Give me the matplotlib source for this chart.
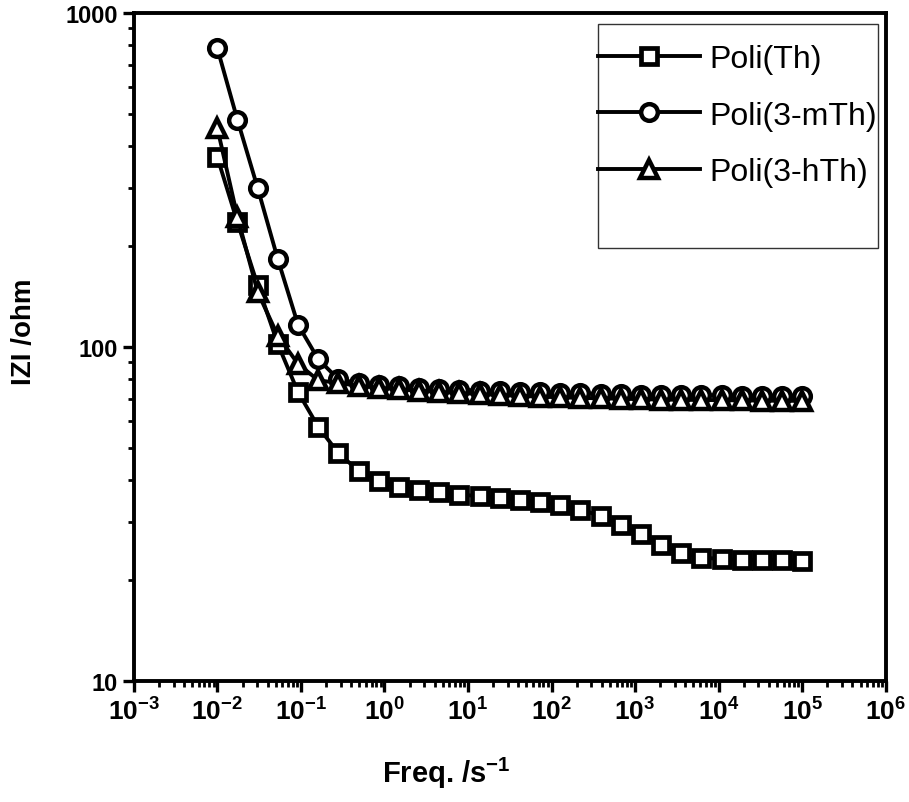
import math
import matplotlib
matplotlib.use("Agg")
import matplotlib.pyplot as plt
from matplotlib.patches import Rectangle
from matplotlib.ticker import LogLocator, FixedLocator, FuncFormatter, NullFormatter

plt.rcParams["font.family"] = ["Liberation Sans", "DejaVu Sans"]
plt.rcParams["mathtext.fontset"] = "custom"
plt.rcParams["mathtext.rm"] = "Liberation Sans:bold"
plt.rcParams["mathtext.bf"] = "Liberation Sans:bold"

# frequency (s^-1), 30 points from 1e-2 to 1e5
freq = [0.0100, 0.01742, 0.03039, 0.05298, 0.09237, 0.1610, 0.2807, 0.4894,
        0.8533, 1.487, 2.593, 4.520, 7.880, 13.74, 23.95, 41.75, 72.79, 126.9,
        221.2, 385.7, 672.4, 1172, 2044, 3562, 6211, 10829, 18880, 32914,
        57384, 100000]

# |Z| / ohm
z_th = [370, 236, 153, 102, 73.3, 57.7, 48.1, 42.6, 39.8, 38.0, 37.2, 36.7,
        36.1, 35.8, 35.3, 34.9, 34.4, 33.6, 32.6, 31.2, 29.4, 27.5, 25.6,
        24.2, 23.4, 23.2, 23.0, 23.0, 23.0, 22.9]
z_mth = [784, 478, 299, 183, 116.6, 92, 80, 78, 77, 76.2, 75.5, 75, 74.5, 74,
         73.7, 73.4, 73.1, 72.8, 72.6, 72.4, 72.2, 72.0, 71.9, 71.8, 71.7,
         71.6, 71.5, 71.5, 71.5, 71.5]
z_hth = [452, 245, 146, 108, 89, 79.5, 78, 76.5, 75.5, 74.7, 74, 73.4, 72.8,
         72.3, 71.8, 71.4, 71, 70.7, 70.4, 70.2, 70, 69.8, 69.6, 69.5, 69.4,
         69.3, 69.2, 69.1, 69.0, 69.0]

labels = ["Poli(Th)", "Poli(3-mTh)", "Poli(3-hTh)"]

fig = plt.figure(figsize=(9.09, 8.03), dpi=100)
ax = fig.add_axes([0.1472, 0.1507, 0.8272, 0.8319])

style = dict(color="black", lw=2.8, mfc="white", mec="black")
l1, = ax.plot(freq, z_th, marker="s", ms=11, mew=3.4, label=labels[0], **style)
l2, = ax.plot(freq, z_mth, marker="o", ms=12, mew=3.2, label=labels[1], **style)
l3, = ax.plot(freq, z_hth, marker="^", ms=13.5, mew=3.2, label=labels[2], **style)

ax.set_xscale("log")
ax.set_yscale("log")
ax.set_xlim(1e-3, 1e6)
ax.set_ylim(10, 1000)

ax.xaxis.set_major_locator(FixedLocator([10.0 ** e for e in range(-3, 7)]))
ax.xaxis.set_minor_locator(LogLocator(base=10, subs=range(2, 10), numticks=20))
ax.xaxis.set_major_formatter(FuncFormatter(
    lambda v, p: r"$\mathbf{10^{%d}}$" % round(math.log10(v))))
ax.xaxis.set_minor_formatter(NullFormatter())

ax.yaxis.set_major_locator(FixedLocator([10, 100, 1000]))
ax.yaxis.set_minor_locator(LogLocator(base=10, subs=range(2, 10), numticks=10))
ax.yaxis.set_major_formatter(FuncFormatter(lambda v, p: "%d" % v))
ax.yaxis.set_minor_formatter(NullFormatter())

ax.tick_params(which="major", direction="out", length=8, width=2.4,
               top=False, right=False)
ax.tick_params(which="minor", direction="out", length=4.5, width=2.0,
               top=False, right=False)
ax.tick_params(axis="y", which="major", pad=3.5, labelsize=17)
ax.tick_params(axis="x", which="major", pad=4, labelsize=19)
for t in ax.get_yticklabels():
    t.set_fontweight("bold")
for s in ax.spines.values():
    s.set_linewidth(2.8)

ax.set_xlabel(r"Freq. /s$^{\mathbf{-1}}$", fontsize=21, fontweight="bold")
ax.xaxis.set_label_coords(0.415, -0.11)
ax.set_ylabel("IZI /ohm", fontsize=20, fontweight="bold")
ax.yaxis.set_label_coords(-0.129, 0.524)

# legend frame drawn separately (box is taller than its entries)
ax.add_patch(Rectangle((0.617, 0.648), 0.373, 0.3353, transform=ax.transAxes,
                       fill=False, edgecolor="#333333", lw=1.0, zorder=5))
ax.legend(handles=[l1, l2, l3], loc="upper left", bbox_to_anchor=(0.617, 0.953),
          frameon=False, fontsize=23, handlelength=3.2, handletextpad=0.3,
          labelspacing=0.82, borderpad=0, borderaxespad=0)

fig.savefig("out.png", dpi=100)
